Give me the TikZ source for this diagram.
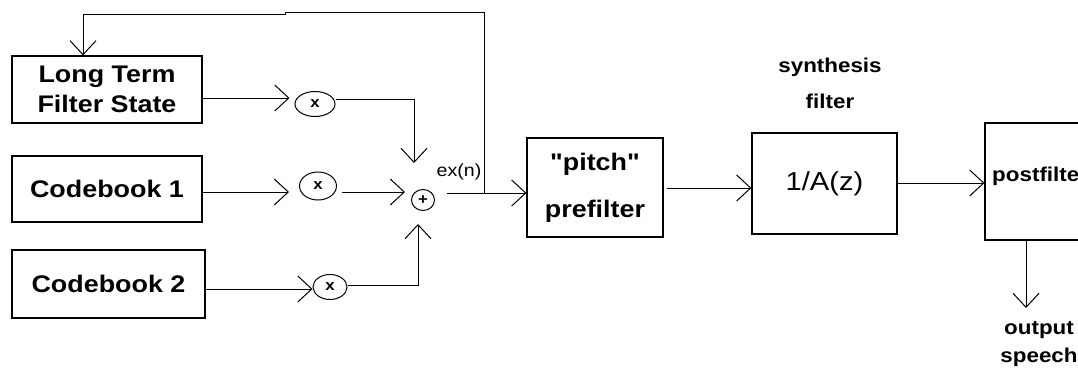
\documentclass[tikz,border=0pt]{standalone}
\usepackage{fontspec}
\newfontfamily\sans{Liberation Sans}[FakeStretch=1.12, Ligatures=TeXOff]
\usetikzlibrary{arrows.meta,shapes.geometric}
\tikzset{
  blk/.style={draw, line width=1.2pt, rectangle, inner sep=0pt, align=center,
    font=\sans\bfseries\fontsize{24}{30}\selectfont},
  mul/.style={draw, line width=1pt, ellipse, inner sep=0pt,
    font=\sans\bfseries\fontsize{15}{15}\selectfont},
  lbl/.style={inner sep=0pt, align=center, font=\sans\bfseries\fontsize{20}{36}\selectfont},
  wire/.style={line width=1pt},
  arr/.style={line width=1pt, -{Straight Barb[length=14pt,width=26pt]}},
}
\begin{document}
\begin{tikzpicture}[x=1pt,y=-1pt]
\useasboundingbox (0,0) rectangle (1078,369);
\clip (0,0) rectangle (1078,369);
% blocks
\node[blk, minimum width=190pt, minimum height=67pt] (lt) at (107,89.5) {Long Term\\Filter State};
\node[blk, minimum width=190pt, minimum height=66pt] (cb1) at (107,189) {Codebook 1};
\node[blk, minimum width=193pt, minimum height=68pt] (cb2) at (108.5,284) {Codebook 2};
\node[blk, minimum width=136pt, minimum height=99pt, font=\sans\bfseries\fontsize{24}{47}\selectfont] (pre) at (595,187.5) {"pitch"\\prefilter};
\node[blk, minimum width=145pt, minimum height=101pt, font=\sans\fontsize{26}{30}\selectfont] (syn) at (824.5,183.5) {1/A(z)};
\node[blk, minimum width=125pt, minimum height=117pt] (post) at (1047.5,181.5) {};
\node[lbl, anchor=west] (postlbl) at (992,176) {postfilter};
% multipliers and adder
\node[mul, minimum width=40pt, minimum height=25pt] (m1) at (315,104) {x};
\node[mul, minimum width=37pt, minimum height=28pt] (m2) at (318,186) {x};
\node[mul, minimum width=34pt, minimum height=25pt] (m3) at (330,287) {x};
\node[mul, minimum width=23pt, minimum height=21pt] (plus) at (423,200) {+};
% labels
\node[lbl] (synlbl) at (830,83) {synthesis\\filter};
\node[inner sep=0pt, font=\sans\fontsize{17.5}{20}\selectfont] (ex) at (459,172) {ex(n)};
\node[lbl, font=\sans\bfseries\fontsize{20}{28}\selectfont] (outlbl) at (1039,344) {output\\speech};
% free ends
\coordinate (t1) at (414,163);
\coordinate (t2) at (405,192);
\coordinate (t3) at (418,224);
\coordinate (fb) at (484,193);
\coordinate (out) at (1026,308);
% connectors
\draw[arr, shorten >=5pt] (lt.east |- 0,98) -- (m1.west |- 0,98);
\draw[arr] (m1.east |- 0,99) -| (t1);
\draw[arr, shorten >=10pt] (cb1.east |- 0,192) -- (m2.west |- 0,192);
\draw[arr, shorten <=5pt] (m2.east |- 0,192) -- (t2);
\draw[arr] (cb2.east |- 0,289) -- (m3.west |- 0,289);
\draw[arr] (m3.east |- 0,285) -| (t3);
\draw[arr, shorten <=12pt] (plus.east |- 0,193) -- (pre.west |- 0,193);
\draw[arr] (fb) -- (484,13) -- (285,13) -- (285,15) -- (83,15) -- (lt.north -| 83,0);
\draw[arr, shorten <=3pt] (pre.east |- 0,188) -- (syn.west |- 0,188);
\draw[arr] (syn.east |- 0,183) -- (post.west |- 0,183);
\draw[arr] (post.south -| 1026,0) -- (out);
\end{tikzpicture}
\end{document}
